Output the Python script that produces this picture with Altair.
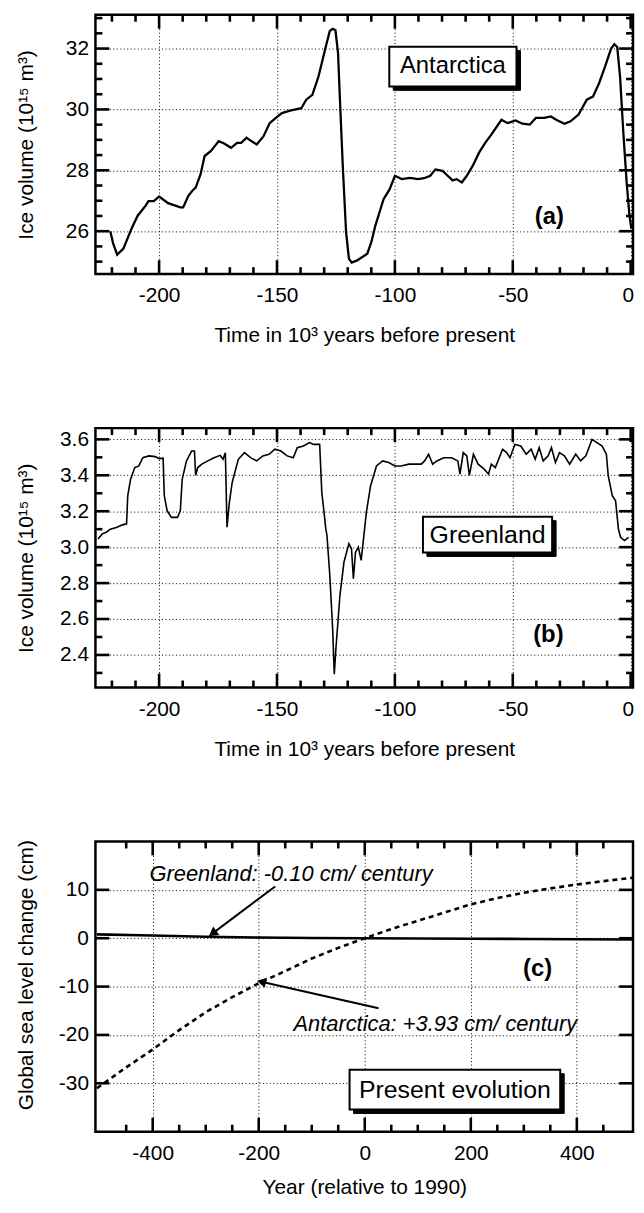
import altair as alt
import pandas as pd

FONT = "Liberation Sans"

# ---------------- data ----------------
# (a) Antarctic ice volume, 10^15 m^3, vs time (10^3 years before present)
ant_t = [-220.7, -219.5, -217.8, -215.2, -211.7, -209.1, -205.7, -204.5, -202.2, -200,
         -196.2, -191, -189.8, -187.6, -185.9, -184.5, -182.4, -180.7, -178.1, -174.7,
         -172.4, -169.5, -166.9, -165.2, -162.9, -160.9, -158.6, -155.7, -153.1, -150.5,
         -147.9, -144.5, -139.7, -137.6, -135, -132.4, -129, -127.6, -126.4, -125.2,
         -124.1, -123.3, -122.1, -120.7, -119.5, -118.3, -116, -111.7, -110, -108.3,
         -104.8, -102.2, -100, -97.1, -93.6, -90.2, -87.6, -85, -82.8, -79.8,
         -77.6, -75.5, -73.8, -71.6, -69.5, -66.9, -64.3, -61.7, -59.1, -54.8,
         -52.2, -48.8, -45.9, -42.8, -40.2, -36.7, -33.8, -31.6, -28.1, -25.5,
         -22.1, -18.6, -16, -13.4, -10.9, -8.3, -6.9, -5.7, -4.5, -3.1,
         -1.7, -0.5, 0.3]
ant_v = [26.0, 25.6, 25.23, 25.42, 26.08, 26.51, 26.84, 26.99, 26.99, 27.14,
         26.92, 26.78, 26.78, 27.16, 27.33, 27.43, 27.87, 28.47, 28.63, 28.96,
         28.88, 28.74, 28.9, 28.9, 29.07, 28.96, 28.85, 29.12, 29.55, 29.72,
         29.88, 29.96, 30.04, 30.32, 30.48, 31.08, 32.16, 32.58, 32.65, 32.6,
         31.84, 30.32, 28.14, 25.97, 25.1, 24.97, 25.04, 25.26, 25.64, 26.18,
         27.05, 27.38, 27.82, 27.71, 27.75, 27.71, 27.74, 27.82, 28.03, 27.98,
         27.82, 27.67, 27.71, 27.6, 27.82, 28.16, 28.58, 28.9, 29.17, 29.66,
         29.55, 29.64, 29.53, 29.5, 29.72, 29.72, 29.77, 29.66, 29.53, 29.61,
         29.83, 30.32, 30.42, 30.86, 31.4, 32.0, 32.14, 32.05, 31.08, 29.23,
         27.6, 26.51, 26.08]

# (b) Greenland ice volume
grn_t = [-225.9, -224.1, -222.4, -220.7, -218.1, -215.5, -213.8, -213.3, -212.1, -210.3,
         -208.6, -206.9, -204.3, -201.7, -200, -198.3, -197.8, -196.6, -194.8, -192.2,
         -191, -190.2, -188.4, -186.2, -185, -184.5, -183.6, -181.9, -179.3, -176.7,
         -174.1, -172.9, -171.9, -171.2, -170.2, -169, -166.4, -163.8, -161.2, -158.6,
         -156, -153.4, -150.9, -148.3, -145.7, -143.1, -141.4, -138.8, -136.2, -134.5,
         -131.9, -131, -130.2, -129.3, -128.8, -127.6, -126.4, -125.7, -125, -123.3,
         -121.6, -119.5, -118.4, -117.6, -116.7, -115.5, -114.3, -113.3, -112.1, -110.3,
         -107.8, -105.2, -102.6, -100, -97.4, -94, -88.8, -87.4, -85.7, -84,
         -82.2, -79.3, -75.9, -73.3, -72.4, -71, -69.5, -68.4, -66.7, -64.7,
         -62.1, -60.3, -59.1, -57.4, -54.3, -52.6, -51.2, -49.1, -46.6, -44.3,
         -42.2, -40.5, -38.8, -37.1, -35, -33.6, -31.9, -30.2, -28.1, -25.9,
         -23.3, -21.2, -19, -16.4, -14.3, -12.1, -10.3, -9.5, -7.8, -6.4,
         -5.2, -4.3, -2.6, -0.9]
grn_v = [3.046, 3.074, 3.083, 3.10, 3.11, 3.124, 3.13, 3.286, 3.378, 3.443,
         3.452, 3.498, 3.508, 3.504, 3.493, 3.495, 3.286, 3.203, 3.166, 3.166,
         3.203, 3.378, 3.48, 3.535, 3.535, 3.40, 3.443, 3.462, 3.48, 3.498,
         3.511, 3.489, 3.526, 3.111, 3.249, 3.36, 3.489, 3.526, 3.498, 3.48,
         3.508, 3.517, 3.545, 3.535, 3.508, 3.498, 3.554, 3.563, 3.582, 3.572,
         3.572, 3.305, 3.212, 3.102, 3.065, 2.843, 2.548, 2.293, 2.437, 2.732,
         2.917, 3.019, 2.991, 2.825, 2.972, 3.0, 2.926, 3.046, 3.194, 3.342,
         3.452, 3.48, 3.471, 3.452, 3.452, 3.462, 3.462, 3.48, 3.517, 3.462,
         3.48, 3.498, 3.498, 3.48, 3.406, 3.526, 3.508, 3.40, 3.517, 3.462,
         3.434, 3.406, 3.462, 3.443, 3.545, 3.526, 3.498, 3.572, 3.563, 3.517,
         3.545, 3.489, 3.554, 3.48, 3.508, 3.554, 3.471, 3.526, 3.508, 3.462,
         3.517, 3.48, 3.508, 3.60, 3.582, 3.563, 3.517, 3.397, 3.286, 3.258,
         3.102, 3.055, 3.037, 3.055]

# (c) present evolution, global sea level change (cm) vs year relative to 1990
yr_ant = [-505, -450, -400, -350, -300, -250, -200, -150, -100, -50, 0,
          50, 100, 150, 200, 250, 300, 350, 400, 450, 505]
sl_ant = [-31.0, -26.7, -23.0, -19.0, -15.3, -12.2, -9.3, -6.8, -4.2, -2.0, 0.0,
          1.9, 3.6, 5.3, 7.0, 8.3, 9.4, 10.3, 11.1, 11.8, 12.5]
yr_grn = [-505, -400, -300, -200, -100, 0, 100, 200, 300, 400, 505]
sl_grn = [0.8, 0.55, 0.3, 0.15, 0.05, 0.0, -0.05, -0.1, -0.15, -0.2, -0.25]

# axis tick values
a_x_major = [-200, -150, -100, -50, 0]
a_x_minor = [-220, -210, -190, -180, -170, -160, -140, -130, -120, -110,
             -90, -80, -70, -60, -40, -30, -20, -10]
a_y_major = [26, 28, 30, 32]
a_y_minor = [25, 25.5, 26.5, 27, 27.5, 28.5, 29, 29.5, 30.5, 31, 31.5, 32.5, 33]
b_y_major = [2.4, 2.6, 2.8, 3.0, 3.2, 3.4, 3.6]
b_y_minor = [2.3, 2.5, 2.7, 2.9, 3.1, 3.3, 3.5]
c_x_major = [-400, -200, 0, 200, 400]
c_x_minor = [-450, -350, -300, -250, -150, -100, -50, 50, 100, 150, 250, 300, 350, 450]
c_y_major = [-30, -20, -10, 0, 10]

W = 541
HA, HB, HC = 261, 261, 292
GRID = dict(grid=True, gridColor="black", gridDash=[1, 2.5], gridWidth=1, gridOpacity=1)


def xaxis(values, title, ty=62):
    return alt.Axis(values=values, title=title, ticks=False, domain=False,
                    labelExpr="'' + datum.value", labelPadding=11,
                    labelFlush=5, labelFlushOffset=3,
                    titleY=ty, titleBaseline="middle", **GRID)


def yaxis(values, title, ty, expr="'' + datum.value"):
    return alt.Axis(values=values, title=title, ticks=False, domain=False,
                    labelExpr=expr, labelPadding=7, labelFlush=False,
                    titleX=-69, titleY=ty, titleAlign="center", titleBaseline="middle",
                    titleAngle=270, **GRID)


class Panel:
    def __init__(self, xdom, ydom, xax, yax, H):
        self.xdom, self.ydom = xdom, ydom
        self.xs = alt.Scale(domain=xdom, nice=False, zero=False)
        self.ys = alt.Scale(domain=ydom, nice=False, zero=False)
        self.xax, self.yax, self.H = xax, yax, H

    # encodings for annotation layers: same scales, no axis of their own
    def X(self, f="x"):
        return alt.X(f + ":Q", scale=self.xs, axis=None)

    def Y(self, f="y"):
        return alt.Y(f + ":Q", scale=self.ys, axis=None)

    def frame_ticks(self, xmaj, xmin, ymaj, ymin, Lmaj=14, Lmin=7):
        """Inward ticks on all four sides, drawn through the panel's own scales."""
        (x0, x1), (y0, y1) = self.xdom, self.ydom
        rows = []
        for vals, L in ((xmaj, Lmaj), (xmin, Lmin)):
            dy = L / self.H * (y1 - y0)
            for v in vals:
                rows.append(dict(x=v, x2=v, y=y0, y2=y0 + dy))
                rows.append(dict(x=v, x2=v, y=y1, y2=y1 - dy))
        for vals, L in ((ymaj, Lmaj), (ymin, Lmin)):
            dx = L / W * (x1 - x0)
            for v in vals:
                rows.append(dict(x=x0, x2=x0 + dx, y=v, y2=v))
                rows.append(dict(x=x1, x2=x1 - dx, y=v, y2=v))
        return alt.Chart(pd.DataFrame(rows)).mark_rule(color="black", strokeWidth=2.6).encode(
            x=self.X(), y=self.Y(), x2="x2:Q", y2="y2:Q")

    def box(self, x, y, text, w, h, fs):
        df = pd.DataFrame({"x": [x], "y": [y], "t": [text]})
        r = h / w
        shape = f"M-1,{-r}H1V{r}H-1Z"
        base = alt.Chart(df).encode(x=self.X(), y=self.Y())
        shadow = base.mark_point(shape=shape, size=w * w, filled=True, fill="black",
                                 stroke="black", strokeWidth=1, opacity=1, xOffset=4, yOffset=4)
        rect = base.mark_point(shape=shape, size=w * w, filled=True, fill="white",
                               stroke="black", strokeWidth=2, opacity=1)
        txt = base.mark_text(font=FONT, fontSize=fs, color="black").encode(text="t:N")
        return [shadow, rect, txt]

    def label(self, x, y, text, fs=24, weight="bold", style="normal"):
        df = pd.DataFrame({"x": [x], "y": [y], "t": [text]})
        return alt.Chart(df).mark_text(font=FONT, fontSize=fs, fontWeight=weight,
                                       fontStyle=style, color="black").encode(
            x=self.X(), y=self.Y(), text="t:N")

    def line(self, xs, ys, axes=False, **kw):
        xe = alt.X("x:Q", scale=self.xs, axis=self.xax) if axes else self.X()
        ye = alt.Y("y:Q", scale=self.ys, axis=self.yax) if axes else self.Y()
        return alt.Chart(pd.DataFrame({"x": xs, "y": ys})).mark_line(
            color="black", clip=True, **kw).encode(x=xe, y=ye, order="x:Q")


def assemble(layers, H):
    return alt.layer(*layers).resolve_axis(x="independent", y="independent").properties(
        width=W, height=H)


# ---------------- panel (a) ----------------
A = Panel([-227, 1], [24.59, 33.11],
          xaxis(a_x_major, "Time in 10³ years before present"),
          yaxis(a_y_major, "Ice volume (10¹⁵ m³)", HA / 2), HA)
pa = assemble([A.line(ant_t, ant_v, axes=True, strokeWidth=2.3),
               A.frame_ticks(a_x_major, a_x_minor, a_y_major, a_y_minor),
               *A.box(-75.4, 31.41, "Antarctica", 128, 40, 24),
               A.label(-34.5, 26.48, "(a)")], HA)

# ---------------- panel (b) ----------------
B = Panel([-227, 1], [2.219, 3.6625],
          xaxis(a_x_major, "Time in 10³ years before present"),
          yaxis(b_y_major, "Ice volume (10¹⁵ m³)", HB / 2, "format(datum.value, '.1f')"), HB)
pb = assemble([B.line(grn_t, grn_v, axes=True, strokeWidth=1.6),
               B.frame_ticks(a_x_major, a_x_minor, b_y_major, b_y_minor),
               *B.box(-60.7, 3.07, "Greenland", 130, 36, 25),
               B.label(-34.9, 2.512, "(b)")], HB)

# ---------------- panel (c) ----------------
C = Panel([-508, 506], [-40, 20],
          xaxis(c_x_major, "Year (relative to 1990)", 56),
          yaxis(c_y_major, "Global sea level change (cm)", HC / 2 - 12), HC)

arrows = pd.DataFrame({"x": [-169, 26], "y": [10.7, -14.5],
                       "x2": [-287, -195], "y2": [1.0, -9.0], "ang": [233.6, 282.6]})
arrow_lines = alt.Chart(arrows).mark_rule(color="black", strokeWidth=2).encode(
    x=C.X(), y=C.Y(), x2="x2:Q", y2="y2:Q")
arrow_heads = alt.Chart(arrows).mark_point(shape="triangle-up", size=110, filled=True,
                                           color="black", opacity=1).encode(
    x=C.X("x2"), y=C.Y("y2"), angle=alt.Angle("ang:Q", scale=None))

pc = assemble([C.line(yr_ant, sl_ant, axes=True, strokeWidth=2.6, strokeDash=[5, 4]),
               C.line(yr_grn, sl_grn, strokeWidth=2.6),
               C.frame_ticks(c_x_major, c_x_minor, c_y_major, []),
               arrow_lines, arrow_heads,
               C.label(-139, 13.2, "Greenland: -0.10 cm/ century", 22, "normal", "italic"),
               C.label(133, -17.7, "Antarctica: +3.93 cm/ century", 22, "normal", "italic"),
               *C.box(170, -31.3, "Present evolution", 212, 40, 25),
               C.label(326, -6.3, "(c)")], HC)

chart = alt.vconcat(pa, pb, pc, spacing=155, bounds="flush").properties(
    padding={"left": 6, "top": 0, "right": 0, "bottom": 0}
).configure_view(stroke="black", strokeWidth=2.5).configure_axis(
    labelFont=FONT, labelFontSize=21, labelColor="black",
    titleFont=FONT, titleFontSize=21, titleColor="black", titleFontWeight="normal")

chart.save("out.html", embed_options={"renderer": "svg", "actions": False})
